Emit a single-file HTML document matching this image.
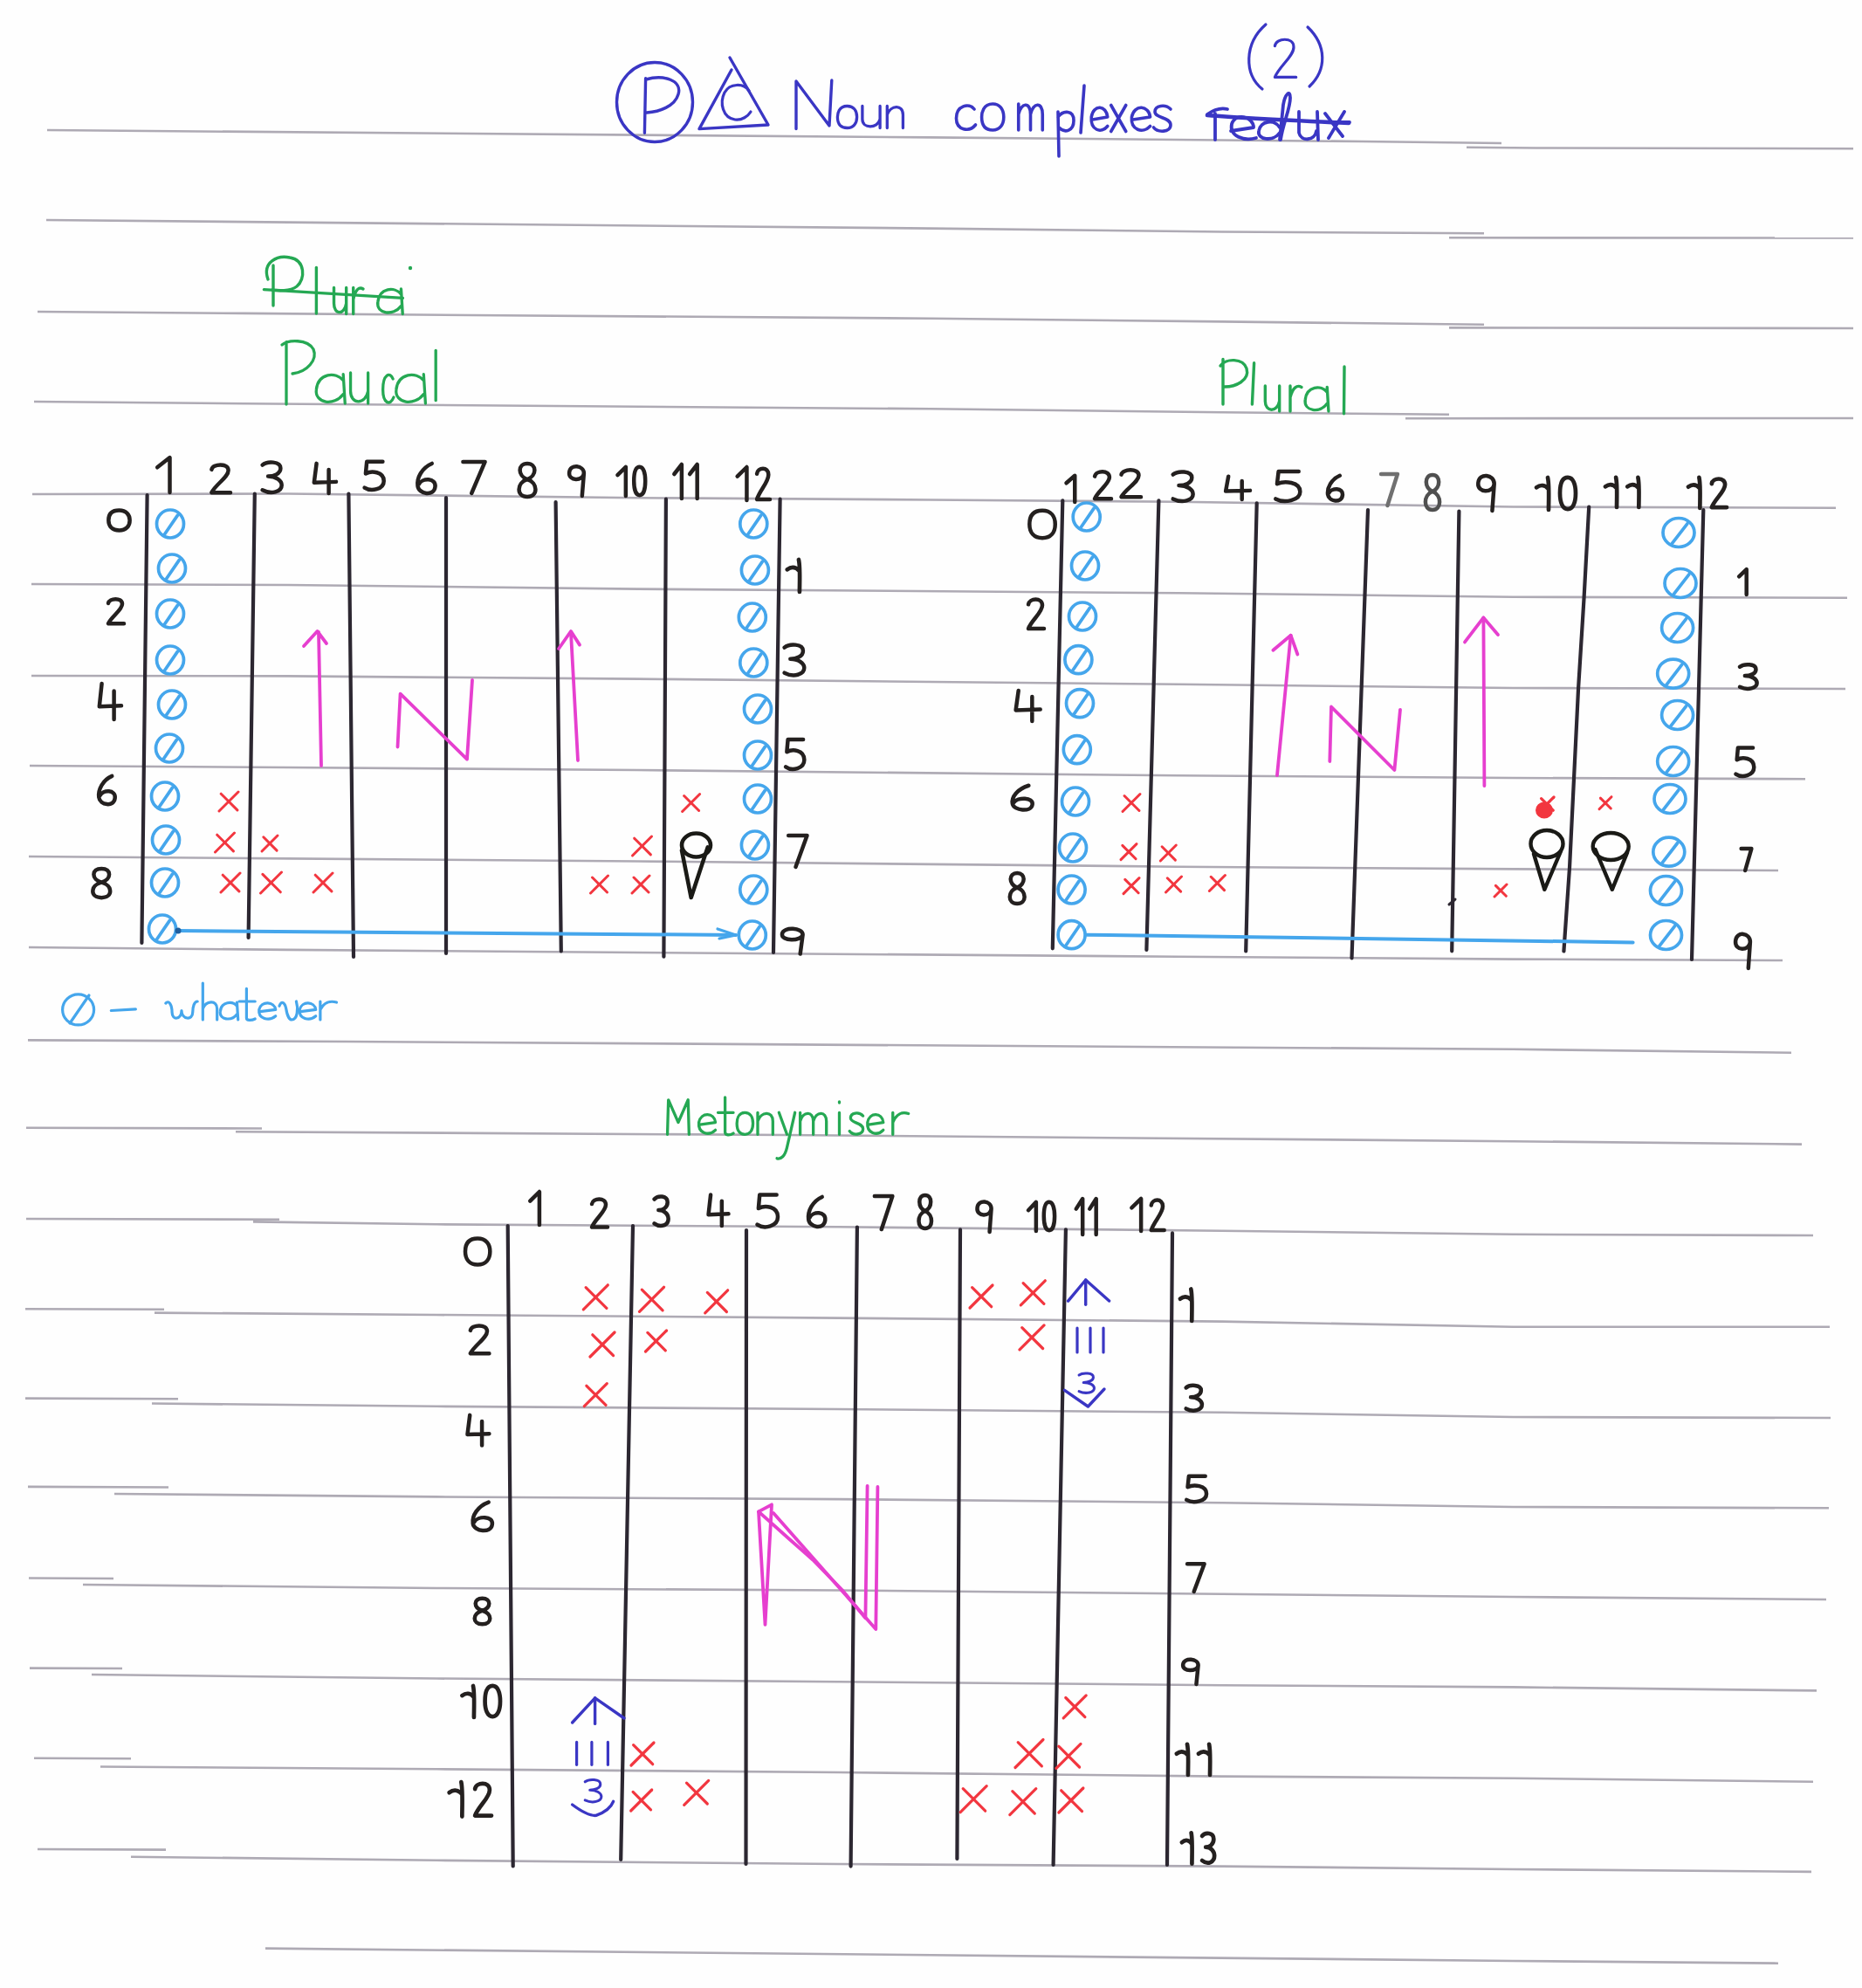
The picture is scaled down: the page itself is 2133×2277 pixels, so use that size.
<!DOCTYPE html>
<html><head><meta charset="utf-8"><title>Noun complexes</title>
<style>html,body{margin:0;padding:0;background:#fefefe;}body{width:2133px;height:2277px;overflow:hidden;}</style>
</head><body>
<svg width="2133" height="2277" viewBox="0 0 2133 2277" style="display:block;font-family:'Liberation Sans',sans-serif">
<rect width="2133" height="2277" fill="#fefefe"/>
<path d="M54.0,149.0 L1066.0,157.4 L1560.0,162.0 L1720.0,164.0" fill="none" stroke="#aeaab4" stroke-width="2.6" stroke-linecap="butt" stroke-linejoin="round"/>
<path d="M1680.0,168.8 L1760.0,169.5 L2123.0,170.2" fill="none" stroke="#aeaab4" stroke-width="2.6" stroke-linecap="butt" stroke-linejoin="round"/>
<path d="M53.0,252.0 L1066.0,261.6 L1400.0,265.5 L1700.0,267.2" fill="none" stroke="#aeaab4" stroke-width="2.6" stroke-linecap="butt" stroke-linejoin="round"/>
<path d="M1660.0,272.3 L2123.0,272.5" fill="none" stroke="#aeaab4" stroke-width="2.6" stroke-linecap="butt" stroke-linejoin="round"/>
<path d="M43.0,357.0 L280.0,358.9 L540.0,361.0 L1066.0,364.7 L1400.0,368.4 L1700.0,371.8" fill="none" stroke="#aeaab4" stroke-width="2.6" stroke-linecap="butt" stroke-linejoin="round"/>
<path d="M1660.0,375.4 L2123.0,376.0" fill="none" stroke="#aeaab4" stroke-width="2.6" stroke-linecap="butt" stroke-linejoin="round"/>
<path d="M39.0,460.0 L280.0,462.2 L540.0,464.3 L1066.0,468.3 L1400.0,472.3 L1660.0,474.8" fill="none" stroke="#aeaab4" stroke-width="2.6" stroke-linecap="butt" stroke-linejoin="round"/>
<path d="M1610.0,479.2 L2123.0,479.0" fill="none" stroke="#aeaab4" stroke-width="2.6" stroke-linecap="butt" stroke-linejoin="round"/>
<path d="M37.0,566.0 L330.0,565.5 L730.0,570.2 L1066.0,572.5 L1350.0,574.8 L1733.0,580.5 L2103.0,581.7" fill="none" stroke="#aeaab4" stroke-width="2.6" stroke-linecap="butt" stroke-linejoin="round"/>
<path d="M36.0,669.0 L330.0,670.0 L730.0,674.6 L1350.0,679.3 L1733.0,683.7 L2116.0,684.8" fill="none" stroke="#aeaab4" stroke-width="2.6" stroke-linecap="butt" stroke-linejoin="round"/>
<path d="M36.0,774.0 L330.0,774.4 L730.0,777.6 L1350.0,783.8 L1733.0,788.0 L2114.0,789.0" fill="none" stroke="#aeaab4" stroke-width="2.6" stroke-linecap="butt" stroke-linejoin="round"/>
<path d="M34.0,877.0 L330.0,879.0 L730.0,882.0 L1350.0,888.3 L1733.0,891.0 L2068.0,892.3" fill="none" stroke="#aeaab4" stroke-width="2.6" stroke-linecap="butt" stroke-linejoin="round"/>
<path d="M33.0,981.0 L330.0,983.4 L730.0,986.5 L1350.0,992.7 L1733.0,995.4 L2037.0,997.0" fill="none" stroke="#aeaab4" stroke-width="2.6" stroke-linecap="butt" stroke-linejoin="round"/>
<path d="M33.0,1085.0 L330.0,1087.9 L730.0,1091.0 L1350.0,1095.7 L1733.0,1098.6 L2042.0,1100.0" fill="none" stroke="#aeaab4" stroke-width="2.6" stroke-linecap="butt" stroke-linejoin="round"/>
<path d="M32.0,1191.4 L400.0,1193.0 L1733.0,1201.8 L2052.0,1205.8" fill="none" stroke="#aeaab4" stroke-width="2.6" stroke-linecap="butt" stroke-linejoin="round"/>
<path d="M30.0,1291.7 L300.0,1292.5" fill="none" stroke="#aeaab4" stroke-width="2.6" stroke-linecap="butt" stroke-linejoin="round"/>
<path d="M270.0,1296.2 L900.0,1300.0 L1733.0,1307.2 L2064.0,1310.6" fill="none" stroke="#aeaab4" stroke-width="2.6" stroke-linecap="butt" stroke-linejoin="round"/>
<path d="M30.0,1396.0 L320.0,1396.8" fill="none" stroke="#aeaab4" stroke-width="2.6" stroke-linecap="butt" stroke-linejoin="round"/>
<path d="M290.0,1399.4 L500.0,1402.3 L960.0,1405.3 L1400.0,1409.7 L1733.0,1413.8 L2077.0,1415.0" fill="none" stroke="#aeaab4" stroke-width="2.6" stroke-linecap="butt" stroke-linejoin="round"/>
<path d="M29.0,1499.3 L188.0,1499.8" fill="none" stroke="#aeaab4" stroke-width="2.6" stroke-linecap="butt" stroke-linejoin="round"/>
<path d="M177.0,1503.6 L500.0,1506.0 L960.0,1509.6 L1400.0,1513.6 L1733.0,1519.8 L2096.0,1519.8" fill="none" stroke="#aeaab4" stroke-width="2.6" stroke-linecap="butt" stroke-linejoin="round"/>
<path d="M29.0,1601.6 L204.0,1602.2" fill="none" stroke="#aeaab4" stroke-width="2.6" stroke-linecap="butt" stroke-linejoin="round"/>
<path d="M174.0,1607.5 L500.0,1610.8 L960.0,1614.0 L1400.0,1617.8 L1733.0,1623.0 L2097.0,1624.0" fill="none" stroke="#aeaab4" stroke-width="2.6" stroke-linecap="butt" stroke-linejoin="round"/>
<path d="M32.0,1702.9 L193.0,1703.5" fill="none" stroke="#aeaab4" stroke-width="2.6" stroke-linecap="butt" stroke-linejoin="round"/>
<path d="M131.0,1711.0 L500.0,1714.4 L960.0,1717.1 L1400.0,1721.2 L1733.0,1726.0 L2095.0,1727.3" fill="none" stroke="#aeaab4" stroke-width="2.6" stroke-linecap="butt" stroke-linejoin="round"/>
<path d="M33.0,1807.5 L130.0,1808.0" fill="none" stroke="#aeaab4" stroke-width="2.6" stroke-linecap="butt" stroke-linejoin="round"/>
<path d="M95.0,1815.0 L500.0,1819.0 L960.0,1821.5 L1400.0,1825.8 L1733.0,1829.0 L2092.0,1832.0" fill="none" stroke="#aeaab4" stroke-width="2.6" stroke-linecap="butt" stroke-linejoin="round"/>
<path d="M34.0,1910.6 L140.0,1911.0" fill="none" stroke="#aeaab4" stroke-width="2.6" stroke-linecap="butt" stroke-linejoin="round"/>
<path d="M105.0,1918.0 L500.0,1922.5 L960.0,1926.2 L1400.0,1930.2 L1733.0,1932.4 L2081.0,1936.4" fill="none" stroke="#aeaab4" stroke-width="2.6" stroke-linecap="butt" stroke-linejoin="round"/>
<path d="M39.0,2013.8 L150.0,2014.3" fill="none" stroke="#aeaab4" stroke-width="2.6" stroke-linecap="butt" stroke-linejoin="round"/>
<path d="M115.0,2023.5 L500.0,2026.3 L960.0,2030.0 L1400.0,2034.6 L1733.0,2036.7 L2077.0,2040.7" fill="none" stroke="#aeaab4" stroke-width="2.6" stroke-linecap="butt" stroke-linejoin="round"/>
<path d="M43.0,2118.0 L190.0,2118.6" fill="none" stroke="#aeaab4" stroke-width="2.6" stroke-linecap="butt" stroke-linejoin="round"/>
<path d="M150.0,2126.7 L500.0,2130.8 L960.0,2135.0 L1400.0,2137.6 L1733.0,2141.0 L2075.0,2143.9" fill="none" stroke="#aeaab4" stroke-width="2.6" stroke-linecap="butt" stroke-linejoin="round"/>
<path d="M304.0,2231.6 L1733.0,2246.0 L2037.0,2248.7" fill="none" stroke="#aeaab4" stroke-width="2.6" stroke-linecap="butt" stroke-linejoin="round"/>
<path d="M168.6,567.0 L162.4,1080.0" fill="none" stroke="#2c2731" stroke-width="4.2" stroke-linecap="round" stroke-linejoin="round"/>
<path d="M291.8,565.5 L284.6,1074.0" fill="none" stroke="#2c2731" stroke-width="4.2" stroke-linecap="round" stroke-linejoin="round"/>
<path d="M399.4,565.5 L405.0,1096.0" fill="none" stroke="#2c2731" stroke-width="4.2" stroke-linecap="round" stroke-linejoin="round"/>
<path d="M511.0,570.0 L511.0,1092.0" fill="none" stroke="#2c2731" stroke-width="4.2" stroke-linecap="round" stroke-linejoin="round"/>
<path d="M636.6,575.0 L642.8,1089.4" fill="none" stroke="#2c2731" stroke-width="4.2" stroke-linecap="round" stroke-linejoin="round"/>
<path d="M762.9,571.7 L760.4,1095.7" fill="none" stroke="#2c2731" stroke-width="4.2" stroke-linecap="round" stroke-linejoin="round"/>
<path d="M893.6,571.7 L886.0,1091.0" fill="none" stroke="#2c2731" stroke-width="4.2" stroke-linecap="round" stroke-linejoin="round"/>
<path d="M1217.3,573.3 L1205.8,1086.3" fill="none" stroke="#2c2731" stroke-width="4.2" stroke-linecap="round" stroke-linejoin="round"/>
<path d="M1327.4,573.3 L1313.4,1087.9" fill="none" stroke="#2c2731" stroke-width="4.2" stroke-linecap="round" stroke-linejoin="round"/>
<path d="M1439.7,576.4 L1427.2,1089.4" fill="none" stroke="#2c2731" stroke-width="4.2" stroke-linecap="round" stroke-linejoin="round"/>
<path d="M1567.0,584.0 L1548.5,1097.3" fill="none" stroke="#2c2731" stroke-width="4.2" stroke-linecap="round" stroke-linejoin="round"/>
<path d="M1671.4,585.6 L1663.2,1089.3" fill="none" stroke="#2c2731" stroke-width="4.2" stroke-linecap="round" stroke-linejoin="round"/>
<path d="M1951.3,584.0 L1938.0,1099.0" fill="none" stroke="#2c2731" stroke-width="4.2" stroke-linecap="round" stroke-linejoin="round"/>
<path d="M581.7,1404.0 L587.7,2137.4" fill="none" stroke="#2c2731" stroke-width="4.2" stroke-linecap="round" stroke-linejoin="round"/>
<path d="M725.0,1404.0 L711.2,2130.0" fill="none" stroke="#2c2731" stroke-width="4.2" stroke-linecap="round" stroke-linejoin="round"/>
<path d="M855.0,1409.0 L854.5,2135.0" fill="none" stroke="#2c2731" stroke-width="4.2" stroke-linecap="round" stroke-linejoin="round"/>
<path d="M981.9,1405.6 L974.6,2137.6" fill="none" stroke="#2c2731" stroke-width="4.2" stroke-linecap="round" stroke-linejoin="round"/>
<path d="M1100.0,1408.3 L1096.4,2128.9" fill="none" stroke="#2c2731" stroke-width="4.2" stroke-linecap="round" stroke-linejoin="round"/>
<path d="M1220.9,1408.3 L1206.6,2136.0" fill="none" stroke="#2c2731" stroke-width="4.2" stroke-linecap="round" stroke-linejoin="round"/>
<path d="M1343.0,1412.4 L1337.0,2136.0" fill="none" stroke="#2c2731" stroke-width="4.2" stroke-linecap="round" stroke-linejoin="round"/>
<path d="M1820.2,580.7 L1814.6,684.0 L1808.0,789.7 L1803.0,891.8 L1798.0,993.8 L1791.4,1089.5" fill="none" stroke="#2c2731" stroke-width="4.2" stroke-linecap="round" stroke-linejoin="round"/>
<path d="M1660.0,1036.0 L1667.0,1030.0" fill="none" stroke="#2c2731" stroke-width="3.0" stroke-linecap="round" stroke-linejoin="round"/>
<ellipse cx="750" cy="117" rx="43.5" ry="45.5" fill="none" stroke="#3a36c4" stroke-width="3.4"/>
<path d="M739.6,89.7 L738.4,152.3 M740,91 C760,85 782,92 777,108 C773,122 755,128 741,129" fill="none" stroke="#3a36c4" stroke-width="3.4" stroke-linecap="round" stroke-linejoin="round" />
<path d="M836,66 L880,143 L801,147.6 L838,80" fill="none" stroke="#3a36c4" stroke-width="3.4" stroke-linecap="round" stroke-linejoin="round" />
<path d="M858,104 C852,95 836,95 830,106 C824,118 828,135 842,137 C850,138 857,133 860,128" fill="none" stroke="#3a36c4" stroke-width="3.2" stroke-linecap="round" stroke-linejoin="round" />
<path d="M912,147.6 L912,93 L950,144 L952.8,92" fill="none" stroke="#3a36c4" stroke-width="3.4" stroke-linecap="round" stroke-linejoin="round" />
<path d="M9,-20 C2,-20 1,-13 1,-10 C1,-3 4,0 9,0 C14,0 17,-4 17,-10 C17,-16 14,-20 9,-20 Z" transform="translate(958.0,146.5) scale(1.389,1.250)" fill="none" stroke="#3a36c4" stroke-width="3.3" vector-effect="non-scaling-stroke" stroke-linecap="round" stroke-linejoin="round"/>
<path d="M2,-20 L2,-8 C2,1 14,1 16,-8 M16,-20 L16,0" transform="translate(985.0,146.5) scale(1.444,1.250)" fill="none" stroke="#3a36c4" stroke-width="3.3" vector-effect="non-scaling-stroke" stroke-linecap="round" stroke-linejoin="round"/>
<path d="M2,-20 L2,0 M2,-12 C5,-21 16,-22 16,-12 L16,0" transform="translate(1013.7,146.5) scale(1.294,1.250)" fill="none" stroke="#3a36c4" stroke-width="3.3" vector-effect="non-scaling-stroke" stroke-linecap="round" stroke-linejoin="round"/>
<path d="M15,-16 C11,-21 1,-19 1,-9 C1,0 11,2 16,-4" transform="translate(1094.0,149.0) scale(1.471,1.500)" fill="none" stroke="#3a36c4" stroke-width="3.6" vector-effect="non-scaling-stroke" stroke-linecap="round" stroke-linejoin="round"/>
<path d="M9,-20 C2,-20 1,-13 1,-10 C1,-3 4,0 9,0 C14,0 17,-4 17,-10 C17,-16 14,-20 9,-20 Z" transform="translate(1123.0,149.0) scale(1.578,1.500)" fill="none" stroke="#3a36c4" stroke-width="3.6" vector-effect="non-scaling-stroke" stroke-linecap="round" stroke-linejoin="round"/>
<path d="M2,-20 L2,0 M2,-12 C4,-21 12,-22 12,-12 L12,0 M12,-12 C14,-21 22,-22 22,-12 L22,0" transform="translate(1164.0,149.0) scale(1.375,1.500)" fill="none" stroke="#3a36c4" stroke-width="3.6" vector-effect="non-scaling-stroke" stroke-linecap="round" stroke-linejoin="round"/>
<path d="M2,-9 L16,-11 C15,-20 3,-21 1,-11 C0,-1 10,2 16,-4" transform="translate(1249.0,150.5) scale(1.235,1.500)" fill="none" stroke="#3a36c4" stroke-width="3.6" vector-effect="non-scaling-stroke" stroke-linecap="round" stroke-linejoin="round"/>
<path d="M1,-20 L15,0 M15,-20 L1,0" transform="translate(1271.5,150.5) scale(1.219,1.500)" fill="none" stroke="#3a36c4" stroke-width="3.6" vector-effect="non-scaling-stroke" stroke-linecap="round" stroke-linejoin="round"/>
<path d="M2,-9 L16,-11 C15,-20 3,-21 1,-11 C0,-1 10,2 16,-4" transform="translate(1295.0,150.5) scale(1.412,1.500)" fill="none" stroke="#3a36c4" stroke-width="3.6" vector-effect="non-scaling-stroke" stroke-linecap="round" stroke-linejoin="round"/>
<path d="M14,-17 C10,-21 2,-20 2,-15 C2,-10 14,-11 14,-5 C14,1 4,1 1,-3" transform="translate(1320.0,150.5) scale(1.500,1.500)" fill="none" stroke="#3a36c4" stroke-width="3.6" vector-effect="non-scaling-stroke" stroke-linecap="round" stroke-linejoin="round"/>
<path d="M1212,128 L1213,179 M1212,134 C1218,126 1230,126 1230,138 C1230,150 1220,153 1213,146" fill="none" stroke="#3a36c4" stroke-width="3.6" stroke-linecap="round" stroke-linejoin="round" />
<path d="M1242,98 L1238,152" fill="none" stroke="#3a36c4" stroke-width="3.6" stroke-linecap="round" stroke-linejoin="round" />
<path d="M1392,160 L1392,130 M1383,131 C1390,126 1398,123 1406,125" fill="none" stroke="#3a36c4" stroke-width="3.8" stroke-linecap="round" stroke-linejoin="round" />
<path d="M1410,150 L1436,146 C1436,134 1416,128 1411,142 C1408,156 1425,162 1439,158" fill="none" stroke="#3a36c4" stroke-width="3.8" stroke-linecap="round" stroke-linejoin="round" />
<path d="M1466,146 C1460,136 1444,138 1442,150 C1440,160 1458,163 1466,152 M1466,160 L1470,120 C1472,108 1478,102 1478,112 C1478,125 1470,140 1467,160" fill="none" stroke="#3a36c4" stroke-width="3.8" stroke-linecap="round" stroke-linejoin="round" />
<path d="M1488,128 L1488,152 C1490,162 1506,162 1508,150 M1509,128 L1510,160" fill="none" stroke="#3a36c4" stroke-width="3.8" stroke-linecap="round" stroke-linejoin="round" />
<path d="M1518,130 L1538,156 M1540,128 L1522,158 M1518,140 L1546,140" fill="none" stroke="#3a36c4" stroke-width="3.8" stroke-linecap="round" stroke-linejoin="round" />
<path d="M1383,132 C1420,135 1480,138 1545,141" fill="none" stroke="#3a36c4" stroke-width="4.6" stroke-linecap="round" stroke-linejoin="round" />
<path d="M1450,28 C1425,50 1425,85 1446,102" fill="none" stroke="#3a36c4" stroke-width="3.2" stroke-linecap="round" stroke-linejoin="round" />
<path d="M1498,31 C1520,52 1520,80 1500,99" fill="none" stroke="#3a36c4" stroke-width="3.2" stroke-linecap="round" stroke-linejoin="round" />
<path d="M2,9 C3,1 18,0 18,10 C18,19 6,28 2,39 L20,39" transform="translate(1457.7,42.0) scale(1.350,1.190)" fill="none" stroke="#3a36c4" stroke-width="3.2" vector-effect="non-scaling-stroke" stroke-linecap="round" stroke-linejoin="round"/>
<path d="M313,350 L313,304 M307,320 C300,300 318,292 332,295 C350,298 350,320 340,328 C332,334 318,333 312,332" fill="none" stroke="#25a853" stroke-width="3.4" stroke-linecap="round" stroke-linejoin="round" />
<path d="M362.4,306.5 L362.4,359" fill="none" stroke="#25a853" stroke-width="3.4" stroke-linecap="round" stroke-linejoin="round" />
<path d="M2,-20 L2,-8 C2,1 14,1 16,-8 M16,-20 L16,0" transform="translate(380.5,359.5) scale(1.011,1.500)" fill="none" stroke="#25a853" stroke-width="3.4" vector-effect="non-scaling-stroke" stroke-linecap="round" stroke-linejoin="round"/>
<path d="M2,-20 L2,0 M2,-11 C5,-19 10,-21 15,-19" transform="translate(403.0,359.5) scale(0.867,1.500)" fill="none" stroke="#25a853" stroke-width="3.4" vector-effect="non-scaling-stroke" stroke-linecap="round" stroke-linejoin="round"/>
<path d="M16,-15 C12,-21 2,-20 1,-9 C0,0 11,2 16,-6 M16,-19 L17,0" transform="translate(431.0,359.5) scale(1.778,1.500)" fill="none" stroke="#25a853" stroke-width="3.4" vector-effect="non-scaling-stroke" stroke-linecap="round" stroke-linejoin="round"/>
<path d="M302.3,331.7 L461.5,341.4" fill="none" stroke="#25a853" stroke-width="3.2" stroke-linecap="round" stroke-linejoin="round" />
<circle cx="470" cy="307" r="2.2" fill="#25a853"/>
<path d="M328,463 L328,391.7 M323,395 C330,389 352,388 359,400 C364,412 352,426 335,428" fill="none" stroke="#25a853" stroke-width="3.3" stroke-linecap="round" stroke-linejoin="round" />
<path d="M16,-15 C12,-21 2,-20 1,-9 C0,0 11,2 16,-6 M16,-19 L17,0" transform="translate(360.3,462.0) scale(2.056,1.750)" fill="none" stroke="#25a853" stroke-width="3.3" vector-effect="non-scaling-stroke" stroke-linecap="round" stroke-linejoin="round"/>
<path d="M2,-20 L2,-8 C2,1 14,1 16,-8 M16,-20 L16,0" transform="translate(398.7,462.0) scale(1.433,1.750)" fill="none" stroke="#25a853" stroke-width="3.3" vector-effect="non-scaling-stroke" stroke-linecap="round" stroke-linejoin="round"/>
<path d="M15,-16 C11,-21 1,-19 1,-9 C1,0 11,2 16,-4" transform="translate(437.8,462.0) scale(0.824,1.750)" fill="none" stroke="#25a853" stroke-width="3.3" vector-effect="non-scaling-stroke" stroke-linecap="round" stroke-linejoin="round"/>
<path d="M16,-15 C12,-21 2,-20 1,-9 C0,0 11,2 16,-6 M16,-19 L17,0" transform="translate(451.8,462.0) scale(2.094,1.750)" fill="none" stroke="#25a853" stroke-width="3.3" vector-effect="non-scaling-stroke" stroke-linecap="round" stroke-linejoin="round"/>
<path d="M499.2,401.5 L499.2,458.7" fill="none" stroke="#25a853" stroke-width="3.3" stroke-linecap="round" stroke-linejoin="round" />
<path d="M1401,463 L1401,411.5 M1398,419 C1404,410 1424,410 1428,422 C1432,436 1415,443 1403,443" fill="none" stroke="#25a853" stroke-width="3.4" stroke-linecap="round" stroke-linejoin="round" />
<path d="M1436.6,415.8 L1434.4,463" fill="none" stroke="#25a853" stroke-width="3.4" stroke-linecap="round" stroke-linejoin="round" />
<path d="M2,-20 L2,-8 C2,1 14,1 16,-8 M16,-20 L16,0" transform="translate(1447.0,471.0) scale(1.167,1.450)" fill="none" stroke="#25a853" stroke-width="3.4" vector-effect="non-scaling-stroke" stroke-linecap="round" stroke-linejoin="round"/>
<path d="M2,-20 L2,0 M2,-11 C5,-19 10,-21 15,-19" transform="translate(1476.0,471.0) scale(1.000,1.450)" fill="none" stroke="#25a853" stroke-width="3.4" vector-effect="non-scaling-stroke" stroke-linecap="round" stroke-linejoin="round"/>
<path d="M16,-15 C12,-21 2,-20 1,-9 C0,0 11,2 16,-6 M16,-19 L17,0" transform="translate(1493.5,471.0) scale(1.672,1.450)" fill="none" stroke="#25a853" stroke-width="3.4" vector-effect="non-scaling-stroke" stroke-linecap="round" stroke-linejoin="round"/>
<path d="M1540,420 L1539.5,473.8" fill="none" stroke="#25a853" stroke-width="3.4" stroke-linecap="round" stroke-linejoin="round" />
<path d="M2,0 L3,-40 L13,-14 L23,-40 L24,0" transform="translate(762.3,1299.3) scale(1.127,0.988)" fill="none" stroke="#25a853" stroke-width="3.3" vector-effect="non-scaling-stroke" stroke-linecap="round" stroke-linejoin="round"/>
<path d="M2,-9 L16,-11 C15,-20 3,-21 1,-11 C0,-1 10,2 16,-4" transform="translate(799.3,1299.3) scale(1.265,1.250)" fill="none" stroke="#25a853" stroke-width="3.3" vector-effect="non-scaling-stroke" stroke-linecap="round" stroke-linejoin="round"/>
<path d="M6,-34 L6,-2 C6,1 10,1 13,-1 M0,-20 L13,-20" transform="translate(822.5,1299.3) scale(1.350,1.250)" fill="none" stroke="#25a853" stroke-width="3.3" vector-effect="non-scaling-stroke" stroke-linecap="round" stroke-linejoin="round"/>
<path d="M9,-20 C2,-20 1,-13 1,-10 C1,-3 4,0 9,0 C14,0 17,-4 17,-10 C17,-16 14,-20 9,-20 Z" transform="translate(843.0,1299.3) scale(1.150,1.250)" fill="none" stroke="#25a853" stroke-width="3.3" vector-effect="non-scaling-stroke" stroke-linecap="round" stroke-linejoin="round"/>
<path d="M2,-20 L2,0 M2,-12 C5,-21 16,-22 16,-12 L16,0" transform="translate(865.5,1299.3) scale(1.239,1.250)" fill="none" stroke="#25a853" stroke-width="3.3" vector-effect="non-scaling-stroke" stroke-linecap="round" stroke-linejoin="round"/>
<path d="M1,-20 L9,0 M17,-20 L9,12 C7,20 3,23 -1,22" transform="translate(891.2,1299.3) scale(1.144,1.250)" fill="none" stroke="#25a853" stroke-width="3.3" vector-effect="non-scaling-stroke" stroke-linecap="round" stroke-linejoin="round"/>
<path d="M2,-20 L2,0 M2,-12 C4,-21 12,-22 12,-12 L12,0 M12,-12 C14,-21 22,-22 22,-12 L22,0" transform="translate(913.6,1299.3) scale(1.504,1.250)" fill="none" stroke="#25a853" stroke-width="3.3" vector-effect="non-scaling-stroke" stroke-linecap="round" stroke-linejoin="round"/>
<path d="M3,-20 L3,0 M3,-30 L3,-29" transform="translate(958.0,1299.3) scale(1.167,1.250)" fill="none" stroke="#25a853" stroke-width="3.3" vector-effect="non-scaling-stroke" stroke-linecap="round" stroke-linejoin="round"/>
<path d="M14,-17 C10,-21 2,-20 2,-15 C2,-10 14,-11 14,-5 C14,1 4,1 1,-3" transform="translate(972.0,1299.3) scale(1.188,1.250)" fill="none" stroke="#25a853" stroke-width="3.3" vector-effect="non-scaling-stroke" stroke-linecap="round" stroke-linejoin="round"/>
<path d="M2,-9 L16,-11 C15,-20 3,-21 1,-11 C0,-1 10,2 16,-4" transform="translate(992.6,1299.3) scale(1.200,1.250)" fill="none" stroke="#25a853" stroke-width="3.3" vector-effect="non-scaling-stroke" stroke-linecap="round" stroke-linejoin="round"/>
<path d="M2,-20 L2,0 M2,-11 C5,-19 10,-21 15,-19" transform="translate(1020.0,1299.3) scale(1.380,1.250)" fill="none" stroke="#25a853" stroke-width="3.3" vector-effect="non-scaling-stroke" stroke-linecap="round" stroke-linejoin="round"/>
<ellipse cx="89.6" cy="1156.4" rx="18" ry="17.5" fill="none" stroke="#45a6ec" stroke-width="3.2"/>
<path d="M80.0,1172.0 L102.0,1140.0" fill="none" stroke="#45a6ec" stroke-width="3.2" stroke-linecap="round" stroke-linejoin="round"/>
<path d="M127.3,1157.5 L155.4,1155.8" fill="none" stroke="#45a6ec" stroke-width="3.2" stroke-linecap="round" stroke-linejoin="round"/>
<path d="M1,-18 C3,-22 5,-16 5,-8 C5,1 11,0 11,-10 C11,0 18,1 18,-8 C18,-14 19,-20 21,-20" transform="translate(188.0,1168.0) scale(1.818,1.050)" fill="none" stroke="#45a6ec" stroke-width="3.2" vector-effect="non-scaling-stroke" stroke-linecap="round" stroke-linejoin="round"/>
<path d="M2,-40 L2,0 M2,-12 C5,-21 16,-22 16,-12 L16,0" transform="translate(230.0,1168.0) scale(1.167,1.050)" fill="none" stroke="#45a6ec" stroke-width="3.2" vector-effect="non-scaling-stroke" stroke-linecap="round" stroke-linejoin="round"/>
<path d="M16,-15 C12,-21 2,-20 1,-9 C0,0 11,2 16,-6 M16,-19 L17,0" transform="translate(251.0,1168.0) scale(1.278,1.050)" fill="none" stroke="#45a6ec" stroke-width="3.2" vector-effect="non-scaling-stroke" stroke-linecap="round" stroke-linejoin="round"/>
<path d="M6,-34 L6,-2 C6,1 10,1 13,-1 M0,-20 L13,-20" transform="translate(274.0,1168.0) scale(1.400,1.050)" fill="none" stroke="#45a6ec" stroke-width="3.2" vector-effect="non-scaling-stroke" stroke-linecap="round" stroke-linejoin="round"/>
<path d="M2,-9 L16,-11 C15,-20 3,-21 1,-11 C0,-1 10,2 16,-4" transform="translate(295.5,1168.0) scale(1.265,1.050)" fill="none" stroke="#45a6ec" stroke-width="3.2" vector-effect="non-scaling-stroke" stroke-linecap="round" stroke-linejoin="round"/>
<path d="M1,-15 C3,-22 6,-18 7,-12 C8,-4 10,0 12,0 C17,0 18,-12 16,-20" transform="translate(318.7,1168.0) scale(1.294,1.050)" fill="none" stroke="#45a6ec" stroke-width="3.2" vector-effect="non-scaling-stroke" stroke-linecap="round" stroke-linejoin="round"/>
<path d="M2,-9 L16,-11 C15,-20 3,-21 1,-11 C0,-1 10,2 16,-4" transform="translate(342.0,1168.0) scale(1.235,1.050)" fill="none" stroke="#45a6ec" stroke-width="3.2" vector-effect="non-scaling-stroke" stroke-linecap="round" stroke-linejoin="round"/>
<path d="M2,-20 L2,0 M2,-11 C5,-19 10,-21 15,-19" transform="translate(364.0,1168.0) scale(1.433,1.050)" fill="none" stroke="#45a6ec" stroke-width="3.2" vector-effect="non-scaling-stroke" stroke-linecap="round" stroke-linejoin="round"/>
<path d="M2,12 L15,1 L15,40" transform="translate(178.0,523.0) scale(1.100,1.025)" fill="none" stroke="#24201f" stroke-width="4.5" vector-effect="non-scaling-stroke" stroke-linecap="round" stroke-linejoin="round"/>
<path d="M2,9 C3,1 18,0 18,10 C18,19 6,28 2,39 L20,39" transform="translate(240.0,530.0) scale(1.200,0.875)" fill="none" stroke="#24201f" stroke-width="4.5" vector-effect="non-scaling-stroke" stroke-linecap="round" stroke-linejoin="round"/>
<path d="M2,5 C6,0 18,0 18,9 C18,16 12,19 7,19 C14,19 19,24 19,30 C19,38 10,42 2,36" transform="translate(298.0,528.0) scale(1.300,0.925)" fill="none" stroke="#24201f" stroke-width="4.5" vector-effect="non-scaling-stroke" stroke-linecap="round" stroke-linejoin="round"/>
<path d="M4,1 L2,26 L20,25 M14,9 L14,40" transform="translate(357.0,530.0) scale(1.400,0.875)" fill="none" stroke="#24201f" stroke-width="4.5" vector-effect="non-scaling-stroke" stroke-linecap="round" stroke-linejoin="round"/>
<path d="M18,1 L4,1 L3,17 C8,13 19,14 19,27 C19,38 8,42 2,36" transform="translate(415.0,528.0) scale(1.300,0.850)" fill="none" stroke="#24201f" stroke-width="4.5" vector-effect="non-scaling-stroke" stroke-linecap="round" stroke-linejoin="round"/>
<path d="M15,1 C6,6 1,18 2,28 C3,38 17,41 18,29 C19,18 6,18 3,26" transform="translate(476.0,530.0) scale(1.250,0.950)" fill="none" stroke="#24201f" stroke-width="4.5" vector-effect="non-scaling-stroke" stroke-linecap="round" stroke-linejoin="round"/>
<path d="M1,2 L19,2 L8,40" transform="translate(529.0,527.0) scale(1.400,0.950)" fill="none" stroke="#24201f" stroke-width="4.5" vector-effect="non-scaling-stroke" stroke-linecap="round" stroke-linejoin="round"/>
<path d="M10,19 C2,15 2,1 10,1 C18,1 18,15 10,19 C1,23 1,39 10,39 C19,39 19,23 10,19 Z" transform="translate(590.0,530.0) scale(1.400,1.000)" fill="none" stroke="#24201f" stroke-width="4.5" vector-effect="non-scaling-stroke" stroke-linecap="round" stroke-linejoin="round"/>
<path d="M18,12 C18,2 3,0 2,11 C1,22 17,22 18,12 L16,40" transform="translate(650.0,531.0) scale(1.050,0.925)" fill="none" stroke="#24201f" stroke-width="4.5" vector-effect="non-scaling-stroke" stroke-linecap="round" stroke-linejoin="round"/>
<path d="M2,12 L15,1 L15,40" transform="translate(706.0,534.0) scale(0.723,0.850)" fill="none" stroke="#24201f" stroke-width="4.5" vector-effect="non-scaling-stroke" stroke-linecap="round" stroke-linejoin="round"/>
<path d="M10,1 C3,1 1,10 1,20 C1,31 4,39 10,39 C16,39 19,31 19,20 C19,9 16,1 10,1 Z" transform="translate(725.5,534.0) scale(0.723,0.850)" fill="none" stroke="#24201f" stroke-width="4.5" vector-effect="non-scaling-stroke" stroke-linecap="round" stroke-linejoin="round"/>
<path d="M2,12 L15,1 L15,40" transform="translate(771.0,531.0) scale(0.659,1.000)" fill="none" stroke="#24201f" stroke-width="4.5" vector-effect="non-scaling-stroke" stroke-linecap="round" stroke-linejoin="round"/>
<path d="M2,12 L15,1 L15,40" transform="translate(788.8,531.0) scale(0.659,1.000)" fill="none" stroke="#24201f" stroke-width="4.5" vector-effect="non-scaling-stroke" stroke-linecap="round" stroke-linejoin="round"/>
<path d="M2,12 L15,1 L15,40" transform="translate(843.0,534.0) scale(0.829,0.975)" fill="none" stroke="#24201f" stroke-width="4.5" vector-effect="non-scaling-stroke" stroke-linecap="round" stroke-linejoin="round"/>
<path d="M2,9 C3,1 18,0 18,10 C18,19 6,28 2,39 L20,39" transform="translate(865.4,534.0) scale(0.829,0.975)" fill="none" stroke="#24201f" stroke-width="4.5" vector-effect="non-scaling-stroke" stroke-linecap="round" stroke-linejoin="round"/>
<path d="M10,1 C3,1 1,10 1,20 C1,31 4,39 10,39 C16,39 19,31 19,20 C19,9 16,1 10,1 Z" transform="translate(123.0,584.0) scale(1.350,0.600)" fill="none" stroke="#24201f" stroke-width="4.5" vector-effect="non-scaling-stroke" stroke-linecap="round" stroke-linejoin="round"/>
<path d="M2,9 C3,1 18,0 18,10 C18,19 6,28 2,39 L20,39" transform="translate(122.0,684.0) scale(1.000,0.775)" fill="none" stroke="#24201f" stroke-width="4.5" vector-effect="non-scaling-stroke" stroke-linecap="round" stroke-linejoin="round"/>
<path d="M4,1 L2,26 L20,25 M14,9 L14,40" transform="translate(111.0,782.0) scale(1.400,1.050)" fill="none" stroke="#24201f" stroke-width="4.5" vector-effect="non-scaling-stroke" stroke-linecap="round" stroke-linejoin="round"/>
<path d="M15,1 C6,6 1,18 2,28 C3,38 17,41 18,29 C19,18 6,18 3,26" transform="translate(111.0,888.0) scale(1.150,0.900)" fill="none" stroke="#24201f" stroke-width="4.5" vector-effect="non-scaling-stroke" stroke-linecap="round" stroke-linejoin="round"/>
<path d="M10,19 C2,15 2,1 10,1 C18,1 18,15 10,19 C1,23 1,39 10,39 C19,39 19,23 10,19 Z" transform="translate(101.5,994.0) scale(1.475,0.875)" fill="none" stroke="#24201f" stroke-width="4.5" vector-effect="non-scaling-stroke" stroke-linecap="round" stroke-linejoin="round"/>
<path d="M1,13 C6,9 11,10 15,15 M14,1 C16,10 15,30 15,40" transform="translate(900.7,640.0) scale(1.015,0.950)" fill="none" stroke="#24201f" stroke-width="4.7" vector-effect="non-scaling-stroke" stroke-linecap="round" stroke-linejoin="round"/>
<path d="M2,5 C6,0 18,0 18,9 C18,16 12,19 7,19 C14,19 19,24 19,30 C19,38 10,42 2,36" transform="translate(896.0,737.0) scale(1.330,0.935)" fill="none" stroke="#24201f" stroke-width="4.5" vector-effect="non-scaling-stroke" stroke-linecap="round" stroke-linejoin="round"/>
<path d="M18,1 L4,1 L3,17 C8,13 19,14 19,27 C19,38 8,42 2,36" transform="translate(897.6,846.0) scale(1.250,0.900)" fill="none" stroke="#24201f" stroke-width="4.5" vector-effect="non-scaling-stroke" stroke-linecap="round" stroke-linejoin="round"/>
<path d="M1,2 L19,2 L8,40" transform="translate(902.0,955.0) scale(1.185,0.950)" fill="none" stroke="#24201f" stroke-width="4.5" vector-effect="non-scaling-stroke" stroke-linecap="round" stroke-linejoin="round"/>
<path d="M18,12 C18,2 3,0 2,11 C1,22 17,22 18,12 L16,40" transform="translate(893.0,1061.0) scale(1.480,0.790)" fill="none" stroke="#24201f" stroke-width="4.5" vector-effect="non-scaling-stroke" stroke-linecap="round" stroke-linejoin="round"/>
<ellipse cx="195.0" cy="600.0" rx="15.5" ry="16" fill="none" stroke="#45a6ec" stroke-width="3.7"/>
<path d="M188.0,612.8 L203.5,590.1" fill="none" stroke="#45a6ec" stroke-width="3.7" stroke-linecap="round" stroke-linejoin="round"/>
<ellipse cx="197.0" cy="651.0" rx="15.5" ry="16" fill="none" stroke="#45a6ec" stroke-width="3.7"/>
<path d="M190.0,663.8 L205.5,641.1" fill="none" stroke="#45a6ec" stroke-width="3.7" stroke-linecap="round" stroke-linejoin="round"/>
<ellipse cx="195.0" cy="703.0" rx="15.5" ry="16" fill="none" stroke="#45a6ec" stroke-width="3.7"/>
<path d="M188.0,715.8 L203.5,693.1" fill="none" stroke="#45a6ec" stroke-width="3.7" stroke-linecap="round" stroke-linejoin="round"/>
<ellipse cx="195.0" cy="756.0" rx="15.5" ry="16" fill="none" stroke="#45a6ec" stroke-width="3.7"/>
<path d="M188.0,768.8 L203.5,746.1" fill="none" stroke="#45a6ec" stroke-width="3.7" stroke-linecap="round" stroke-linejoin="round"/>
<ellipse cx="197.0" cy="807.0" rx="15.5" ry="16" fill="none" stroke="#45a6ec" stroke-width="3.7"/>
<path d="M190.0,819.8 L205.5,797.1" fill="none" stroke="#45a6ec" stroke-width="3.7" stroke-linecap="round" stroke-linejoin="round"/>
<ellipse cx="194.0" cy="857.0" rx="15.5" ry="16" fill="none" stroke="#45a6ec" stroke-width="3.7"/>
<path d="M187.0,869.8 L202.5,847.1" fill="none" stroke="#45a6ec" stroke-width="3.7" stroke-linecap="round" stroke-linejoin="round"/>
<ellipse cx="189.0" cy="912.0" rx="15.5" ry="16" fill="none" stroke="#45a6ec" stroke-width="3.7"/>
<path d="M182.0,924.8 L197.5,902.1" fill="none" stroke="#45a6ec" stroke-width="3.7" stroke-linecap="round" stroke-linejoin="round"/>
<ellipse cx="190.0" cy="962.0" rx="15.5" ry="16" fill="none" stroke="#45a6ec" stroke-width="3.7"/>
<path d="M183.0,974.8 L198.5,952.1" fill="none" stroke="#45a6ec" stroke-width="3.7" stroke-linecap="round" stroke-linejoin="round"/>
<ellipse cx="189.0" cy="1011.0" rx="15.5" ry="16" fill="none" stroke="#45a6ec" stroke-width="3.7"/>
<path d="M182.0,1023.8 L197.5,1001.1" fill="none" stroke="#45a6ec" stroke-width="3.7" stroke-linecap="round" stroke-linejoin="round"/>
<ellipse cx="186.0" cy="1064.0" rx="15.5" ry="16" fill="none" stroke="#45a6ec" stroke-width="3.7"/>
<path d="M179.0,1076.8 L194.5,1054.1" fill="none" stroke="#45a6ec" stroke-width="3.7" stroke-linecap="round" stroke-linejoin="round"/>
<ellipse cx="863.3" cy="600.0" rx="15.5" ry="16" fill="none" stroke="#45a6ec" stroke-width="3.7"/>
<path d="M856.3,612.8 L871.8,590.1" fill="none" stroke="#45a6ec" stroke-width="3.7" stroke-linecap="round" stroke-linejoin="round"/>
<ellipse cx="864.9" cy="653.0" rx="15.5" ry="16" fill="none" stroke="#45a6ec" stroke-width="3.7"/>
<path d="M857.9,665.8 L873.4,643.1" fill="none" stroke="#45a6ec" stroke-width="3.7" stroke-linecap="round" stroke-linejoin="round"/>
<ellipse cx="861.8" cy="707.0" rx="15.5" ry="16" fill="none" stroke="#45a6ec" stroke-width="3.7"/>
<path d="M854.8,719.8 L870.3,697.1" fill="none" stroke="#45a6ec" stroke-width="3.7" stroke-linecap="round" stroke-linejoin="round"/>
<ellipse cx="863.3" cy="759.0" rx="15.5" ry="16" fill="none" stroke="#45a6ec" stroke-width="3.7"/>
<path d="M856.3,771.8 L871.8,749.1" fill="none" stroke="#45a6ec" stroke-width="3.7" stroke-linecap="round" stroke-linejoin="round"/>
<ellipse cx="868.0" cy="812.0" rx="15.5" ry="16" fill="none" stroke="#45a6ec" stroke-width="3.7"/>
<path d="M861.0,824.8 L876.5,802.1" fill="none" stroke="#45a6ec" stroke-width="3.7" stroke-linecap="round" stroke-linejoin="round"/>
<ellipse cx="868.0" cy="865.0" rx="15.5" ry="16" fill="none" stroke="#45a6ec" stroke-width="3.7"/>
<path d="M861.0,877.8 L876.5,855.1" fill="none" stroke="#45a6ec" stroke-width="3.7" stroke-linecap="round" stroke-linejoin="round"/>
<ellipse cx="868.0" cy="915.0" rx="15.5" ry="16" fill="none" stroke="#45a6ec" stroke-width="3.7"/>
<path d="M861.0,927.8 L876.5,905.1" fill="none" stroke="#45a6ec" stroke-width="3.7" stroke-linecap="round" stroke-linejoin="round"/>
<ellipse cx="864.9" cy="968.0" rx="15.5" ry="16" fill="none" stroke="#45a6ec" stroke-width="3.7"/>
<path d="M857.9,980.8 L873.4,958.1" fill="none" stroke="#45a6ec" stroke-width="3.7" stroke-linecap="round" stroke-linejoin="round"/>
<ellipse cx="863.3" cy="1019.0" rx="15.5" ry="16" fill="none" stroke="#45a6ec" stroke-width="3.7"/>
<path d="M856.3,1031.8 L871.8,1009.1" fill="none" stroke="#45a6ec" stroke-width="3.7" stroke-linecap="round" stroke-linejoin="round"/>
<ellipse cx="861.8" cy="1071.0" rx="15.5" ry="16" fill="none" stroke="#45a6ec" stroke-width="3.7"/>
<path d="M854.8,1083.8 L870.3,1061.1" fill="none" stroke="#45a6ec" stroke-width="3.7" stroke-linecap="round" stroke-linejoin="round"/>
<path d="M251.0,929.0 L273.0,907.0" fill="none" stroke="#f2363f" stroke-width="3.0" stroke-linecap="round" stroke-linejoin="round"/>
<path d="M253.2,909.2 L271.9,927.9" fill="none" stroke="#f2363f" stroke-width="3.0" stroke-linecap="round" stroke-linejoin="round"/>
<path d="M246.5,976.0 L268.5,954.0" fill="none" stroke="#f2363f" stroke-width="3.0" stroke-linecap="round" stroke-linejoin="round"/>
<path d="M248.7,956.2 L267.4,974.9" fill="none" stroke="#f2363f" stroke-width="3.0" stroke-linecap="round" stroke-linejoin="round"/>
<path d="M300.0,975.0 L318.0,957.0" fill="none" stroke="#f2363f" stroke-width="3.0" stroke-linecap="round" stroke-linejoin="round"/>
<path d="M301.8,958.8 L317.1,974.1" fill="none" stroke="#f2363f" stroke-width="3.0" stroke-linecap="round" stroke-linejoin="round"/>
<path d="M253.0,1022.0 L275.0,1000.0" fill="none" stroke="#f2363f" stroke-width="3.0" stroke-linecap="round" stroke-linejoin="round"/>
<path d="M255.2,1002.2 L273.9,1020.9" fill="none" stroke="#f2363f" stroke-width="3.0" stroke-linecap="round" stroke-linejoin="round"/>
<path d="M298.5,1023.0 L322.5,999.0" fill="none" stroke="#f2363f" stroke-width="3.0" stroke-linecap="round" stroke-linejoin="round"/>
<path d="M300.9,1001.4 L321.3,1021.8" fill="none" stroke="#f2363f" stroke-width="3.0" stroke-linecap="round" stroke-linejoin="round"/>
<path d="M359.0,1022.0 L381.0,1000.0" fill="none" stroke="#f2363f" stroke-width="3.0" stroke-linecap="round" stroke-linejoin="round"/>
<path d="M361.2,1002.2 L379.9,1020.9" fill="none" stroke="#f2363f" stroke-width="3.0" stroke-linecap="round" stroke-linejoin="round"/>
<path d="M781.6,929.5 L801.6,909.5" fill="none" stroke="#f2363f" stroke-width="3.0" stroke-linecap="round" stroke-linejoin="round"/>
<path d="M783.6,911.5 L800.6,928.5" fill="none" stroke="#f2363f" stroke-width="3.0" stroke-linecap="round" stroke-linejoin="round"/>
<path d="M724.5,980.0 L746.5,958.0" fill="none" stroke="#f2363f" stroke-width="3.0" stroke-linecap="round" stroke-linejoin="round"/>
<path d="M726.7,960.2 L745.4,978.9" fill="none" stroke="#f2363f" stroke-width="3.0" stroke-linecap="round" stroke-linejoin="round"/>
<path d="M676.5,1023.0 L696.5,1003.0" fill="none" stroke="#f2363f" stroke-width="3.0" stroke-linecap="round" stroke-linejoin="round"/>
<path d="M678.5,1005.0 L695.5,1022.0" fill="none" stroke="#f2363f" stroke-width="3.0" stroke-linecap="round" stroke-linejoin="round"/>
<path d="M724.0,1023.0 L744.0,1003.0" fill="none" stroke="#f2363f" stroke-width="3.0" stroke-linecap="round" stroke-linejoin="round"/>
<path d="M726.0,1005.0 L743.0,1022.0" fill="none" stroke="#f2363f" stroke-width="3.0" stroke-linecap="round" stroke-linejoin="round"/>
<path d="M368.0,877.0 L365.0,724.0" fill="none" stroke="#e63fcf" stroke-width="3.8" stroke-linecap="round" stroke-linejoin="round"/>
<path d="M348.0,740.0 L363.5,723.0 L374.0,737.0" fill="none" stroke="#e63fcf" stroke-width="3.8" stroke-linecap="round" stroke-linejoin="round"/>
<path d="M662.0,871.0 L654.0,724.5" fill="none" stroke="#e63fcf" stroke-width="3.8" stroke-linecap="round" stroke-linejoin="round"/>
<path d="M640.0,743.0 L654.0,723.0 L664.0,738.6" fill="none" stroke="#e63fcf" stroke-width="3.8" stroke-linecap="round" stroke-linejoin="round"/>
<path d="M455.5,855.5 L458.6,794.7 L535.0,869.6 L541.0,779.0" fill="none" stroke="#e63fcf" stroke-width="3.8" stroke-linecap="round" stroke-linejoin="round"/>
<ellipse cx="797.5" cy="968" rx="16.5" ry="13.5" fill="none" stroke="#1a1a16" stroke-width="4.6"/>
<path d="M781.0,974.0 L791.7,1028.0 L810.7,970.4" fill="none" stroke="#1a1a16" stroke-width="4.6" stroke-linecap="round" stroke-linejoin="round"/>
<path d="M203.0,1066.0 L843.0,1071.0" fill="none" stroke="#45a6ec" stroke-width="4.0" stroke-linecap="round" stroke-linejoin="round"/>
<path d="M822.0,1064.0 L843.0,1071.0 L824.0,1075.0" fill="none" stroke="#45a6ec" stroke-width="3.2" stroke-linecap="round" stroke-linejoin="round"/>
<circle cx="204" cy="1066" r="3.5" fill="#1f5f9f"/>
<path d="M2,12 L15,1 L15,40" transform="translate(1220.0,544.0) scale(0.750,0.775)" fill="none" stroke="#24201f" stroke-width="4.5" vector-effect="non-scaling-stroke" stroke-linecap="round" stroke-linejoin="round"/>
<path d="M2,9 C3,1 18,0 18,10 C18,19 6,28 2,39 L20,39" transform="translate(1252.0,538.0) scale(1.050,0.850)" fill="none" stroke="#24201f" stroke-width="4.5" vector-effect="non-scaling-stroke" stroke-linecap="round" stroke-linejoin="round"/>
<path d="M2,9 C3,1 18,0 18,10 C18,19 6,28 2,39 L20,39" transform="translate(1282.0,536.0) scale(1.250,0.850)" fill="none" stroke="#24201f" stroke-width="4.5" vector-effect="non-scaling-stroke" stroke-linecap="round" stroke-linejoin="round"/>
<path d="M2,5 C6,0 18,0 18,9 C18,16 12,19 7,19 C14,19 19,24 19,30 C19,38 10,42 2,36" transform="translate(1341.0,539.0) scale(1.350,0.900)" fill="none" stroke="#24201f" stroke-width="4.5" vector-effect="non-scaling-stroke" stroke-linecap="round" stroke-linejoin="round"/>
<path d="M4,1 L2,26 L20,25 M14,9 L14,40" transform="translate(1401.0,545.0) scale(1.550,0.675)" fill="none" stroke="#24201f" stroke-width="4.5" vector-effect="non-scaling-stroke" stroke-linecap="round" stroke-linejoin="round"/>
<path d="M18,1 L4,1 L3,17 C8,13 19,14 19,27 C19,38 8,42 2,36" transform="translate(1458.0,539.0) scale(1.650,0.900)" fill="none" stroke="#24201f" stroke-width="4.5" vector-effect="non-scaling-stroke" stroke-linecap="round" stroke-linejoin="round"/>
<path d="M15,1 C6,6 1,18 2,28 C3,38 17,41 18,29 C19,18 6,18 3,26" transform="translate(1519.0,544.0) scale(1.050,0.800)" fill="none" stroke="#24201f" stroke-width="4.5" vector-effect="non-scaling-stroke" stroke-linecap="round" stroke-linejoin="round"/>
<path d="M1,2 L19,2 L8,40" transform="translate(1581.0,541.0) scale(1.050,0.950)" fill="none" stroke="#707070" stroke-width="4.5" vector-effect="non-scaling-stroke" stroke-linecap="round" stroke-linejoin="round"/>
<path d="M10,19 C2,15 2,1 10,1 C18,1 18,15 10,19 C1,23 1,39 10,39 C19,39 19,23 10,19 Z" transform="translate(1629.0,543.0) scale(1.200,1.050)" fill="none" stroke="#505050" stroke-width="4.5" vector-effect="non-scaling-stroke" stroke-linecap="round" stroke-linejoin="round"/>
<path d="M18,12 C18,2 3,0 2,11 C1,22 17,22 18,12 L16,40" transform="translate(1691.0,541.0) scale(1.150,1.100)" fill="none" stroke="#24201f" stroke-width="4.5" vector-effect="non-scaling-stroke" stroke-linecap="round" stroke-linejoin="round"/>
<path d="M1,13 C6,9 11,10 15,15 M14,1 C16,10 15,30 15,40" transform="translate(1759.0,546.0) scale(0.999,0.950)" fill="none" stroke="#24201f" stroke-width="4.7" vector-effect="non-scaling-stroke" stroke-linecap="round" stroke-linejoin="round"/>
<path d="M10,1 C3,1 1,10 1,20 C1,31 4,39 10,39 C16,39 19,31 19,20 C19,9 16,1 10,1 Z" transform="translate(1786.0,546.0) scale(0.999,0.950)" fill="none" stroke="#24201f" stroke-width="4.7" vector-effect="non-scaling-stroke" stroke-linecap="round" stroke-linejoin="round"/>
<path d="M1,13 C6,9 11,10 15,15 M14,1 C16,10 15,30 15,40" transform="translate(1838.0,546.0) scale(0.935,0.875)" fill="none" stroke="#24201f" stroke-width="4.7" vector-effect="non-scaling-stroke" stroke-linecap="round" stroke-linejoin="round"/>
<path d="M1,13 C6,9 11,10 15,15 M14,1 C16,10 15,30 15,40" transform="translate(1863.3,546.0) scale(0.935,0.875)" fill="none" stroke="#24201f" stroke-width="4.7" vector-effect="non-scaling-stroke" stroke-linecap="round" stroke-linejoin="round"/>
<path d="M1,13 C6,9 11,10 15,15 M14,1 C16,10 15,30 15,40" transform="translate(1933.0,546.0) scale(0.956,0.900)" fill="none" stroke="#24201f" stroke-width="4.7" vector-effect="non-scaling-stroke" stroke-linecap="round" stroke-linejoin="round"/>
<path d="M2,9 C3,1 18,0 18,10 C18,19 6,28 2,39 L20,39" transform="translate(1958.9,546.0) scale(0.956,0.900)" fill="none" stroke="#24201f" stroke-width="4.7" vector-effect="non-scaling-stroke" stroke-linecap="round" stroke-linejoin="round"/>
<path d="M10,1 C3,1 1,10 1,20 C1,31 4,39 10,39 C16,39 19,31 19,20 C19,9 16,1 10,1 Z" transform="translate(1177.7,584.0) scale(1.635,0.825)" fill="none" stroke="#24201f" stroke-width="4.5" vector-effect="non-scaling-stroke" stroke-linecap="round" stroke-linejoin="round"/>
<path d="M2,9 C3,1 18,0 18,10 C18,19 6,28 2,39 L20,39" transform="translate(1176.0,684.0) scale(1.000,0.925)" fill="none" stroke="#24201f" stroke-width="4.5" vector-effect="non-scaling-stroke" stroke-linecap="round" stroke-linejoin="round"/>
<path d="M4,1 L2,26 L20,25 M14,9 L14,40" transform="translate(1160.5,790.0) scale(1.560,0.900)" fill="none" stroke="#24201f" stroke-width="4.5" vector-effect="non-scaling-stroke" stroke-linecap="round" stroke-linejoin="round"/>
<path d="M15,1 C6,6 1,18 2,28 C3,38 17,41 18,29 C19,18 6,18 3,26" transform="translate(1157.0,899.0) scale(1.425,0.775)" fill="none" stroke="#24201f" stroke-width="4.5" vector-effect="non-scaling-stroke" stroke-linecap="round" stroke-linejoin="round"/>
<path d="M10,19 C2,15 2,1 10,1 C18,1 18,15 10,19 C1,23 1,39 10,39 C19,39 19,23 10,19 Z" transform="translate(1152.7,999.0) scale(1.250,0.925)" fill="none" stroke="#24201f" stroke-width="4.5" vector-effect="non-scaling-stroke" stroke-linecap="round" stroke-linejoin="round"/>
<path d="M2,12 L15,1 L15,40" transform="translate(1990.8,651.4) scale(0.660,0.740)" fill="none" stroke="#24201f" stroke-width="4.5" vector-effect="non-scaling-stroke" stroke-linecap="round" stroke-linejoin="round"/>
<path d="M2,5 C6,0 18,0 18,9 C18,16 12,19 7,19 C14,19 19,24 19,30 C19,38 10,42 2,36" transform="translate(1990.8,760.0) scale(1.150,0.743)" fill="none" stroke="#24201f" stroke-width="4.5" vector-effect="non-scaling-stroke" stroke-linecap="round" stroke-linejoin="round"/>
<path d="M18,1 L4,1 L3,17 C8,13 19,14 19,27 C19,38 8,42 2,36" transform="translate(1986.0,855.6) scale(1.225,0.860)" fill="none" stroke="#24201f" stroke-width="4.5" vector-effect="non-scaling-stroke" stroke-linecap="round" stroke-linejoin="round"/>
<path d="M1,2 L19,2 L8,40" transform="translate(1994.0,970.8) scale(0.650,0.655)" fill="none" stroke="#24201f" stroke-width="4.5" vector-effect="non-scaling-stroke" stroke-linecap="round" stroke-linejoin="round"/>
<path d="M18,12 C18,2 3,0 2,11 C1,22 17,22 18,12 L16,40" transform="translate(1986.0,1066.0) scale(1.050,1.075)" fill="none" stroke="#24201f" stroke-width="4.5" vector-effect="non-scaling-stroke" stroke-linecap="round" stroke-linejoin="round"/>
<ellipse cx="1244.7" cy="592.0" rx="15.5" ry="16" fill="none" stroke="#45a6ec" stroke-width="3.7"/>
<path d="M1237.7,604.8 L1253.2,582.1" fill="none" stroke="#45a6ec" stroke-width="3.7" stroke-linecap="round" stroke-linejoin="round"/>
<ellipse cx="1243.0" cy="648.0" rx="15.5" ry="16" fill="none" stroke="#45a6ec" stroke-width="3.7"/>
<path d="M1236.0,660.8 L1251.5,638.1" fill="none" stroke="#45a6ec" stroke-width="3.7" stroke-linecap="round" stroke-linejoin="round"/>
<ellipse cx="1240.0" cy="706.0" rx="15.5" ry="16" fill="none" stroke="#45a6ec" stroke-width="3.7"/>
<path d="M1233.0,718.8 L1248.5,696.1" fill="none" stroke="#45a6ec" stroke-width="3.7" stroke-linecap="round" stroke-linejoin="round"/>
<ellipse cx="1235.4" cy="755.7" rx="15.5" ry="16" fill="none" stroke="#45a6ec" stroke-width="3.7"/>
<path d="M1228.4,768.5 L1243.9,745.8" fill="none" stroke="#45a6ec" stroke-width="3.7" stroke-linecap="round" stroke-linejoin="round"/>
<ellipse cx="1237.0" cy="805.6" rx="15.5" ry="16" fill="none" stroke="#45a6ec" stroke-width="3.7"/>
<path d="M1230.0,818.4 L1245.5,795.7" fill="none" stroke="#45a6ec" stroke-width="3.7" stroke-linecap="round" stroke-linejoin="round"/>
<ellipse cx="1233.8" cy="858.6" rx="15.5" ry="16" fill="none" stroke="#45a6ec" stroke-width="3.7"/>
<path d="M1226.8,871.4 L1242.3,848.7" fill="none" stroke="#45a6ec" stroke-width="3.7" stroke-linecap="round" stroke-linejoin="round"/>
<ellipse cx="1232.0" cy="918.0" rx="15.5" ry="16" fill="none" stroke="#45a6ec" stroke-width="3.7"/>
<path d="M1225.0,930.8 L1240.5,908.1" fill="none" stroke="#45a6ec" stroke-width="3.7" stroke-linecap="round" stroke-linejoin="round"/>
<ellipse cx="1229.0" cy="971.0" rx="15.5" ry="16" fill="none" stroke="#45a6ec" stroke-width="3.7"/>
<path d="M1222.0,983.8 L1237.5,961.1" fill="none" stroke="#45a6ec" stroke-width="3.7" stroke-linecap="round" stroke-linejoin="round"/>
<ellipse cx="1227.6" cy="1019.0" rx="15.5" ry="16" fill="none" stroke="#45a6ec" stroke-width="3.7"/>
<path d="M1220.6,1031.8 L1236.1,1009.1" fill="none" stroke="#45a6ec" stroke-width="3.7" stroke-linecap="round" stroke-linejoin="round"/>
<ellipse cx="1227.6" cy="1070.7" rx="15.5" ry="16" fill="none" stroke="#45a6ec" stroke-width="3.7"/>
<path d="M1220.6,1083.5 L1236.1,1060.8" fill="none" stroke="#45a6ec" stroke-width="3.7" stroke-linecap="round" stroke-linejoin="round"/>
<ellipse cx="1923.0" cy="610.0" rx="18" ry="16.5" fill="none" stroke="#45a6ec" stroke-width="3.7"/>
<path d="M1914.9,623.2 L1932.9,599.8" fill="none" stroke="#45a6ec" stroke-width="3.7" stroke-linecap="round" stroke-linejoin="round"/>
<ellipse cx="1925.0" cy="668.0" rx="18" ry="16.5" fill="none" stroke="#45a6ec" stroke-width="3.7"/>
<path d="M1916.9,681.2 L1934.9,657.8" fill="none" stroke="#45a6ec" stroke-width="3.7" stroke-linecap="round" stroke-linejoin="round"/>
<ellipse cx="1921.6" cy="719.0" rx="18" ry="16.5" fill="none" stroke="#45a6ec" stroke-width="3.7"/>
<path d="M1913.5,732.2 L1931.5,708.8" fill="none" stroke="#45a6ec" stroke-width="3.7" stroke-linecap="round" stroke-linejoin="round"/>
<ellipse cx="1916.7" cy="771.6" rx="18" ry="16.5" fill="none" stroke="#45a6ec" stroke-width="3.7"/>
<path d="M1908.6,784.8 L1926.6,761.4" fill="none" stroke="#45a6ec" stroke-width="3.7" stroke-linecap="round" stroke-linejoin="round"/>
<ellipse cx="1921.6" cy="819.0" rx="18" ry="16.5" fill="none" stroke="#45a6ec" stroke-width="3.7"/>
<path d="M1913.5,832.2 L1931.5,808.8" fill="none" stroke="#45a6ec" stroke-width="3.7" stroke-linecap="round" stroke-linejoin="round"/>
<ellipse cx="1916.7" cy="872.0" rx="18" ry="16.5" fill="none" stroke="#45a6ec" stroke-width="3.7"/>
<path d="M1908.6,885.2 L1926.6,861.8" fill="none" stroke="#45a6ec" stroke-width="3.7" stroke-linecap="round" stroke-linejoin="round"/>
<ellipse cx="1913.0" cy="915.0" rx="18" ry="16.5" fill="none" stroke="#45a6ec" stroke-width="3.7"/>
<path d="M1904.9,928.2 L1922.9,904.8" fill="none" stroke="#45a6ec" stroke-width="3.7" stroke-linecap="round" stroke-linejoin="round"/>
<ellipse cx="1911.8" cy="975.7" rx="18" ry="16.5" fill="none" stroke="#45a6ec" stroke-width="3.7"/>
<path d="M1903.7,988.9 L1921.7,965.5" fill="none" stroke="#45a6ec" stroke-width="3.7" stroke-linecap="round" stroke-linejoin="round"/>
<ellipse cx="1908.5" cy="1020.0" rx="18" ry="16.5" fill="none" stroke="#45a6ec" stroke-width="3.7"/>
<path d="M1900.4,1033.2 L1918.4,1009.8" fill="none" stroke="#45a6ec" stroke-width="3.7" stroke-linecap="round" stroke-linejoin="round"/>
<ellipse cx="1908.5" cy="1071.0" rx="18" ry="16.5" fill="none" stroke="#45a6ec" stroke-width="3.7"/>
<path d="M1900.4,1084.2 L1918.4,1060.8" fill="none" stroke="#45a6ec" stroke-width="3.7" stroke-linecap="round" stroke-linejoin="round"/>
<path d="M1286.0,929.5 L1306.0,909.5" fill="none" stroke="#f2363f" stroke-width="3.0" stroke-linecap="round" stroke-linejoin="round"/>
<path d="M1288.0,911.5 L1305.0,928.5" fill="none" stroke="#f2363f" stroke-width="3.0" stroke-linecap="round" stroke-linejoin="round"/>
<path d="M1284.0,984.6 L1302.0,966.6" fill="none" stroke="#f2363f" stroke-width="3.0" stroke-linecap="round" stroke-linejoin="round"/>
<path d="M1285.8,968.4 L1301.1,983.7" fill="none" stroke="#f2363f" stroke-width="3.0" stroke-linecap="round" stroke-linejoin="round"/>
<path d="M1329.3,986.0 L1347.3,968.0" fill="none" stroke="#f2363f" stroke-width="3.0" stroke-linecap="round" stroke-linejoin="round"/>
<path d="M1331.1,969.8 L1346.4,985.1" fill="none" stroke="#f2363f" stroke-width="3.0" stroke-linecap="round" stroke-linejoin="round"/>
<path d="M1287.0,1023.6 L1305.0,1005.6" fill="none" stroke="#f2363f" stroke-width="3.0" stroke-linecap="round" stroke-linejoin="round"/>
<path d="M1288.8,1007.4 L1304.1,1022.7" fill="none" stroke="#f2363f" stroke-width="3.0" stroke-linecap="round" stroke-linejoin="round"/>
<path d="M1335.5,1022.0 L1353.5,1004.0" fill="none" stroke="#f2363f" stroke-width="3.0" stroke-linecap="round" stroke-linejoin="round"/>
<path d="M1337.3,1005.8 L1352.6,1021.1" fill="none" stroke="#f2363f" stroke-width="3.0" stroke-linecap="round" stroke-linejoin="round"/>
<path d="M1385.4,1020.5 L1403.4,1002.5" fill="none" stroke="#f2363f" stroke-width="3.0" stroke-linecap="round" stroke-linejoin="round"/>
<path d="M1387.2,1004.3 L1402.5,1019.6" fill="none" stroke="#f2363f" stroke-width="3.0" stroke-linecap="round" stroke-linejoin="round"/>
<path d="M1832.0,926.7 L1846.0,912.7" fill="none" stroke="#f2363f" stroke-width="3.0" stroke-linecap="round" stroke-linejoin="round"/>
<path d="M1833.4,914.1 L1845.3,926.0" fill="none" stroke="#f2363f" stroke-width="3.0" stroke-linecap="round" stroke-linejoin="round"/>
<path d="M1712.0,1027.0 L1726.0,1013.0" fill="none" stroke="#f2363f" stroke-width="3.0" stroke-linecap="round" stroke-linejoin="round"/>
<path d="M1713.4,1014.4 L1725.3,1026.3" fill="none" stroke="#f2363f" stroke-width="3.0" stroke-linecap="round" stroke-linejoin="round"/>
<ellipse cx="1769" cy="928" rx="8.5" ry="8" fill="#f2363f" stroke="#f2363f" stroke-width="3"/>
<path d="M1764.0,929.0 L1780.0,913.0" fill="none" stroke="#f2363f" stroke-width="3.2" stroke-linecap="round" stroke-linejoin="round"/>
<path d="M1765.6,914.6 L1779.2,928.2" fill="none" stroke="#f2363f" stroke-width="3.2" stroke-linecap="round" stroke-linejoin="round"/>
<path d="M1463.0,888.0 L1478.6,727.7" fill="none" stroke="#e63fcf" stroke-width="3.8" stroke-linecap="round" stroke-linejoin="round"/>
<path d="M1458.4,744.8 L1478.6,727.7 L1486.4,749.5" fill="none" stroke="#e63fcf" stroke-width="3.8" stroke-linecap="round" stroke-linejoin="round"/>
<path d="M1700.4,900.0 L1699.4,707.4" fill="none" stroke="#e63fcf" stroke-width="3.8" stroke-linecap="round" stroke-linejoin="round"/>
<path d="M1678.0,735.4 L1699.4,707.4 L1716.0,727.0" fill="none" stroke="#e63fcf" stroke-width="3.8" stroke-linecap="round" stroke-linejoin="round"/>
<path d="M1523.3,872.0 L1525.0,809.5 L1597.4,882.0 L1604.0,812.8" fill="none" stroke="#e63fcf" stroke-width="3.8" stroke-linecap="round" stroke-linejoin="round"/>
<ellipse cx="1772" cy="966.5" rx="18.5" ry="15.5" fill="none" stroke="#1a1a16" stroke-width="4.4"/>
<path d="M1757.0,978.0 L1769.3,1018.8 L1788.0,975.0" fill="none" stroke="#1a1a16" stroke-width="4.4" stroke-linecap="round" stroke-linejoin="round"/>
<ellipse cx="1845.2" cy="969.5" rx="20.5" ry="15.5" fill="none" stroke="#1a1a16" stroke-width="4.4"/>
<path d="M1827.5,973.0 L1846.8,1018.8 L1864.0,976.7" fill="none" stroke="#1a1a16" stroke-width="4.4" stroke-linecap="round" stroke-linejoin="round"/>
<path d="M1244.7,1070.7 L1870.6,1079.4" fill="none" stroke="#45a6ec" stroke-width="4.0" stroke-linecap="round" stroke-linejoin="round"/>
<path d="M2,12 L15,1 L15,40" transform="translate(605.6,1364.0) scale(0.820,0.975)" fill="none" stroke="#24201f" stroke-width="4.5" vector-effect="non-scaling-stroke" stroke-linecap="round" stroke-linejoin="round"/>
<path d="M2,9 C3,1 18,0 18,10 C18,19 6,28 2,39 L20,39" transform="translate(676.0,1371.0) scale(1.000,0.887)" fill="none" stroke="#24201f" stroke-width="4.5" vector-effect="non-scaling-stroke" stroke-linecap="round" stroke-linejoin="round"/>
<path d="M2,5 C6,0 18,0 18,9 C18,16 12,19 7,19 C14,19 19,24 19,30 C19,38 10,42 2,36" transform="translate(747.7,1369.0) scale(0.945,0.900)" fill="none" stroke="#24201f" stroke-width="4.5" vector-effect="non-scaling-stroke" stroke-linecap="round" stroke-linejoin="round"/>
<path d="M4,1 L2,26 L20,25 M14,9 L14,40" transform="translate(809.0,1367.5) scale(1.275,0.912)" fill="none" stroke="#24201f" stroke-width="4.5" vector-effect="non-scaling-stroke" stroke-linecap="round" stroke-linejoin="round"/>
<path d="M18,1 L4,1 L3,17 C8,13 19,14 19,27 C19,38 8,42 2,36" transform="translate(864.7,1367.5) scale(1.385,0.975)" fill="none" stroke="#24201f" stroke-width="4.5" vector-effect="non-scaling-stroke" stroke-linecap="round" stroke-linejoin="round"/>
<path d="M15,1 C6,6 1,18 2,28 C3,38 17,41 18,29 C19,18 6,18 3,26" transform="translate(923.8,1370.0) scale(1.195,0.950)" fill="none" stroke="#24201f" stroke-width="4.5" vector-effect="non-scaling-stroke" stroke-linecap="round" stroke-linejoin="round"/>
<path d="M1,2 L19,2 L8,40" transform="translate(1000.7,1368.0) scale(1.140,1.000)" fill="none" stroke="#24201f" stroke-width="4.5" vector-effect="non-scaling-stroke" stroke-linecap="round" stroke-linejoin="round"/>
<path d="M10,19 C2,15 2,1 10,1 C18,1 18,15 10,19 C1,23 1,39 10,39 C19,39 19,23 10,19 Z" transform="translate(1049.0,1368.0) scale(1.075,1.000)" fill="none" stroke="#24201f" stroke-width="4.5" vector-effect="non-scaling-stroke" stroke-linecap="round" stroke-linejoin="round"/>
<path d="M18,12 C18,2 3,0 2,11 C1,22 17,22 18,12 L16,40" transform="translate(1117.5,1373.0) scale(1.005,0.950)" fill="none" stroke="#24201f" stroke-width="4.5" vector-effect="non-scaling-stroke" stroke-linecap="round" stroke-linejoin="round"/>
<path d="M2,12 L15,1 L15,40" transform="translate(1176.6,1376.0) scale(0.684,0.850)" fill="none" stroke="#24201f" stroke-width="4.5" vector-effect="non-scaling-stroke" stroke-linecap="round" stroke-linejoin="round"/>
<path d="M10,1 C3,1 1,10 1,20 C1,31 4,39 10,39 C16,39 19,31 19,20 C19,9 16,1 10,1 Z" transform="translate(1195.1,1376.0) scale(0.684,0.850)" fill="none" stroke="#24201f" stroke-width="4.5" vector-effect="non-scaling-stroke" stroke-linecap="round" stroke-linejoin="round"/>
<path d="M2,12 L15,1 L15,40" transform="translate(1231.6,1372.0) scale(0.572,1.050)" fill="none" stroke="#24201f" stroke-width="4.5" vector-effect="non-scaling-stroke" stroke-linecap="round" stroke-linejoin="round"/>
<path d="M2,12 L15,1 L15,40" transform="translate(1247.1,1372.0) scale(0.572,1.050)" fill="none" stroke="#24201f" stroke-width="4.5" vector-effect="non-scaling-stroke" stroke-linecap="round" stroke-linejoin="round"/>
<path d="M2,12 L15,1 L15,40" transform="translate(1294.7,1372.0) scale(0.829,0.950)" fill="none" stroke="#24201f" stroke-width="4.5" vector-effect="non-scaling-stroke" stroke-linecap="round" stroke-linejoin="round"/>
<path d="M2,9 C3,1 18,0 18,10 C18,19 6,28 2,39 L20,39" transform="translate(1317.1,1372.0) scale(0.829,0.950)" fill="none" stroke="#24201f" stroke-width="4.5" vector-effect="non-scaling-stroke" stroke-linecap="round" stroke-linejoin="round"/>
<path d="M10,1 C3,1 1,10 1,20 C1,31 4,39 10,39 C16,39 19,31 19,20 C19,9 16,1 10,1 Z" transform="translate(531.4,1417.8) scale(1.575,0.787)" fill="none" stroke="#24201f" stroke-width="4.5" vector-effect="non-scaling-stroke" stroke-linecap="round" stroke-linejoin="round"/>
<path d="M2,9 C3,1 18,0 18,10 C18,19 6,28 2,39 L20,39" transform="translate(536.5,1516.0) scale(1.195,0.875)" fill="none" stroke="#24201f" stroke-width="4.5" vector-effect="non-scaling-stroke" stroke-linecap="round" stroke-linejoin="round"/>
<path d="M4,1 L2,26 L20,25 M14,9 L14,40" transform="translate(532.7,1620.0) scale(1.385,0.887)" fill="none" stroke="#24201f" stroke-width="4.5" vector-effect="non-scaling-stroke" stroke-linecap="round" stroke-linejoin="round"/>
<path d="M15,1 C6,6 1,18 2,28 C3,38 17,41 18,29 C19,18 6,18 3,26" transform="translate(539.0,1719.7) scale(1.380,0.907)" fill="none" stroke="#24201f" stroke-width="4.5" vector-effect="non-scaling-stroke" stroke-linecap="round" stroke-linejoin="round"/>
<path d="M10,19 C2,15 2,1 10,1 C18,1 18,15 10,19 C1,23 1,39 10,39 C19,39 19,23 10,19 Z" transform="translate(539.5,1830.0) scale(1.300,0.775)" fill="none" stroke="#24201f" stroke-width="4.5" vector-effect="non-scaling-stroke" stroke-linecap="round" stroke-linejoin="round"/>
<path d="M1,13 C6,9 11,10 15,15 M14,1 C16,10 15,30 15,40" transform="translate(528.4,1930.0) scale(0.969,0.925)" fill="none" stroke="#24201f" stroke-width="4.7" vector-effect="non-scaling-stroke" stroke-linecap="round" stroke-linejoin="round"/>
<path d="M10,1 C3,1 1,10 1,20 C1,31 4,39 10,39 C16,39 19,31 19,20 C19,9 16,1 10,1 Z" transform="translate(554.6,1930.0) scale(0.969,0.925)" fill="none" stroke="#24201f" stroke-width="4.7" vector-effect="non-scaling-stroke" stroke-linecap="round" stroke-linejoin="round"/>
<path d="M1,13 C6,9 11,10 15,15 M14,1 C16,10 15,30 15,40" transform="translate(513.6,2040.0) scale(1.050,1.015)" fill="none" stroke="#24201f" stroke-width="4.7" vector-effect="non-scaling-stroke" stroke-linecap="round" stroke-linejoin="round"/>
<path d="M2,9 C3,1 18,0 18,10 C18,19 6,28 2,39 L20,39" transform="translate(542.0,2040.0) scale(1.050,1.015)" fill="none" stroke="#24201f" stroke-width="4.7" vector-effect="non-scaling-stroke" stroke-linecap="round" stroke-linejoin="round"/>
<path d="M1,13 C6,9 11,10 15,15 M14,1 C16,10 15,30 15,40" transform="translate(1351.0,1475.5) scale(0.950,0.938)" fill="none" stroke="#24201f" stroke-width="4.7" vector-effect="non-scaling-stroke" stroke-linecap="round" stroke-linejoin="round"/>
<path d="M2,5 C6,0 18,0 18,9 C18,16 12,19 7,19 C14,19 19,24 19,30 C19,38 10,42 2,36" transform="translate(1356.5,1585.6) scale(1.075,0.773)" fill="none" stroke="#24201f" stroke-width="4.5" vector-effect="non-scaling-stroke" stroke-linecap="round" stroke-linejoin="round"/>
<path d="M18,1 L4,1 L3,17 C8,13 19,14 19,27 C19,38 8,42 2,36" transform="translate(1356.5,1690.0) scale(1.345,0.775)" fill="none" stroke="#24201f" stroke-width="4.5" vector-effect="non-scaling-stroke" stroke-linecap="round" stroke-linejoin="round"/>
<path d="M1,2 L19,2 L8,40" transform="translate(1359.0,1789.6) scale(1.085,0.835)" fill="none" stroke="#24201f" stroke-width="4.5" vector-effect="non-scaling-stroke" stroke-linecap="round" stroke-linejoin="round"/>
<path d="M18,12 C18,2 3,0 2,11 C1,22 17,22 18,12 L16,40" transform="translate(1353.0,1898.0) scale(1.090,0.775)" fill="none" stroke="#24201f" stroke-width="4.5" vector-effect="non-scaling-stroke" stroke-linecap="round" stroke-linejoin="round"/>
<path d="M1,13 C6,9 11,10 15,15 M14,1 C16,10 15,30 15,40" transform="translate(1347.0,1997.0) scale(0.929,0.900)" fill="none" stroke="#24201f" stroke-width="4.7" vector-effect="non-scaling-stroke" stroke-linecap="round" stroke-linejoin="round"/>
<path d="M1,13 C6,9 11,10 15,15 M14,1 C16,10 15,30 15,40" transform="translate(1372.1,1997.0) scale(0.929,0.900)" fill="none" stroke="#24201f" stroke-width="4.7" vector-effect="non-scaling-stroke" stroke-linecap="round" stroke-linejoin="round"/>
<path d="M1,13 C6,9 11,10 15,15 M14,1 C16,10 15,30 15,40" transform="translate(1353.0,2098.4) scale(0.829,0.907)" fill="none" stroke="#24201f" stroke-width="4.7" vector-effect="non-scaling-stroke" stroke-linecap="round" stroke-linejoin="round"/>
<path d="M2,5 C6,0 18,0 18,9 C18,16 12,19 7,19 C14,19 19,24 19,30 C19,38 10,42 2,36" transform="translate(1375.4,2098.4) scale(0.829,0.907)" fill="none" stroke="#24201f" stroke-width="4.7" vector-effect="non-scaling-stroke" stroke-linecap="round" stroke-linejoin="round"/>
<path d="M668.3,1499.8 L696.3,1471.8" fill="none" stroke="#f2363f" stroke-width="3.2" stroke-linecap="round" stroke-linejoin="round"/>
<path d="M671.1,1474.6 L694.9,1498.4" fill="none" stroke="#f2363f" stroke-width="3.2" stroke-linecap="round" stroke-linejoin="round"/>
<path d="M732.5,1502.3 L760.5,1474.3" fill="none" stroke="#f2363f" stroke-width="3.2" stroke-linecap="round" stroke-linejoin="round"/>
<path d="M735.3,1477.1 L759.1,1500.9" fill="none" stroke="#f2363f" stroke-width="3.2" stroke-linecap="round" stroke-linejoin="round"/>
<path d="M807.7,1503.8 L833.7,1477.8" fill="none" stroke="#f2363f" stroke-width="3.2" stroke-linecap="round" stroke-linejoin="round"/>
<path d="M810.3,1480.4 L832.4,1502.5" fill="none" stroke="#f2363f" stroke-width="3.2" stroke-linecap="round" stroke-linejoin="round"/>
<path d="M676.0,1554.0 L704.0,1526.0" fill="none" stroke="#f2363f" stroke-width="3.2" stroke-linecap="round" stroke-linejoin="round"/>
<path d="M678.8,1528.8 L702.6,1552.6" fill="none" stroke="#f2363f" stroke-width="3.2" stroke-linecap="round" stroke-linejoin="round"/>
<path d="M739.5,1548.0 L763.5,1524.0" fill="none" stroke="#f2363f" stroke-width="3.2" stroke-linecap="round" stroke-linejoin="round"/>
<path d="M741.9,1526.4 L762.3,1546.8" fill="none" stroke="#f2363f" stroke-width="3.2" stroke-linecap="round" stroke-linejoin="round"/>
<path d="M669.3,1610.7 L695.3,1584.7" fill="none" stroke="#f2363f" stroke-width="3.2" stroke-linecap="round" stroke-linejoin="round"/>
<path d="M671.9,1587.3 L694.0,1609.4" fill="none" stroke="#f2363f" stroke-width="3.2" stroke-linecap="round" stroke-linejoin="round"/>
<path d="M1111.0,1498.0 L1137.0,1472.0" fill="none" stroke="#f2363f" stroke-width="3.2" stroke-linecap="round" stroke-linejoin="round"/>
<path d="M1113.6,1474.6 L1135.7,1496.7" fill="none" stroke="#f2363f" stroke-width="3.2" stroke-linecap="round" stroke-linejoin="round"/>
<path d="M1169.3,1494.8 L1197.3,1466.8" fill="none" stroke="#f2363f" stroke-width="3.2" stroke-linecap="round" stroke-linejoin="round"/>
<path d="M1172.1,1469.6 L1195.9,1493.4" fill="none" stroke="#f2363f" stroke-width="3.2" stroke-linecap="round" stroke-linejoin="round"/>
<path d="M1168.0,1545.9 L1196.0,1517.9" fill="none" stroke="#f2363f" stroke-width="3.2" stroke-linecap="round" stroke-linejoin="round"/>
<path d="M1170.8,1520.7 L1194.6,1544.5" fill="none" stroke="#f2363f" stroke-width="3.2" stroke-linecap="round" stroke-linejoin="round"/>
<path d="M723.0,2022.0 L749.0,1996.0" fill="none" stroke="#f2363f" stroke-width="3.2" stroke-linecap="round" stroke-linejoin="round"/>
<path d="M725.6,1998.6 L747.7,2020.7" fill="none" stroke="#f2363f" stroke-width="3.2" stroke-linecap="round" stroke-linejoin="round"/>
<path d="M722.7,2074.0 L746.7,2050.0" fill="none" stroke="#f2363f" stroke-width="3.2" stroke-linecap="round" stroke-linejoin="round"/>
<path d="M725.1,2052.4 L745.5,2072.8" fill="none" stroke="#f2363f" stroke-width="3.2" stroke-linecap="round" stroke-linejoin="round"/>
<path d="M783.7,2067.4 L811.7,2039.4" fill="none" stroke="#f2363f" stroke-width="3.2" stroke-linecap="round" stroke-linejoin="round"/>
<path d="M786.5,2042.2 L810.3,2066.0" fill="none" stroke="#f2363f" stroke-width="3.2" stroke-linecap="round" stroke-linejoin="round"/>
<path d="M1218.2,1967.9 L1244.2,1941.9" fill="none" stroke="#f2363f" stroke-width="3.2" stroke-linecap="round" stroke-linejoin="round"/>
<path d="M1220.8,1944.5 L1242.9,1966.6" fill="none" stroke="#f2363f" stroke-width="3.2" stroke-linecap="round" stroke-linejoin="round"/>
<path d="M1163.0,2024.5 L1195.0,1992.5" fill="none" stroke="#f2363f" stroke-width="3.2" stroke-linecap="round" stroke-linejoin="round"/>
<path d="M1166.2,1995.7 L1193.4,2022.9" fill="none" stroke="#f2363f" stroke-width="3.2" stroke-linecap="round" stroke-linejoin="round"/>
<path d="M1210.0,2025.4 L1238.0,1997.4" fill="none" stroke="#f2363f" stroke-width="3.2" stroke-linecap="round" stroke-linejoin="round"/>
<path d="M1212.8,2000.2 L1236.6,2024.0" fill="none" stroke="#f2363f" stroke-width="3.2" stroke-linecap="round" stroke-linejoin="round"/>
<path d="M1100.2,2075.7 L1130.2,2045.7" fill="none" stroke="#f2363f" stroke-width="3.2" stroke-linecap="round" stroke-linejoin="round"/>
<path d="M1103.2,2048.7 L1128.7,2074.2" fill="none" stroke="#f2363f" stroke-width="3.2" stroke-linecap="round" stroke-linejoin="round"/>
<path d="M1156.8,2078.6 L1186.8,2048.6" fill="none" stroke="#f2363f" stroke-width="3.2" stroke-linecap="round" stroke-linejoin="round"/>
<path d="M1159.8,2051.6 L1185.3,2077.1" fill="none" stroke="#f2363f" stroke-width="3.2" stroke-linecap="round" stroke-linejoin="round"/>
<path d="M1212.9,2076.0 L1240.9,2048.0" fill="none" stroke="#f2363f" stroke-width="3.2" stroke-linecap="round" stroke-linejoin="round"/>
<path d="M1215.7,2050.8 L1239.5,2074.6" fill="none" stroke="#f2363f" stroke-width="3.2" stroke-linecap="round" stroke-linejoin="round"/>
<path d="M1243.7,1466.0 L1243.7,1494.3" fill="none" stroke="#3a36c4" stroke-width="3.4" stroke-linecap="round" stroke-linejoin="round"/>
<path d="M1223.6,1490.2 L1243.7,1466.0 L1270.6,1490.0" fill="none" stroke="#3a36c4" stroke-width="3.4" stroke-linecap="round" stroke-linejoin="round"/>
<path d="M1234.0,1521.0 L1234.0,1549.0" fill="none" stroke="#3a36c4" stroke-width="3.2" stroke-linecap="round" stroke-linejoin="round"/>
<path d="M1249.0,1521.0 L1249.0,1549.0" fill="none" stroke="#3a36c4" stroke-width="3.2" stroke-linecap="round" stroke-linejoin="round"/>
<path d="M1264.0,1521.0 L1264.0,1549.0" fill="none" stroke="#3a36c4" stroke-width="3.2" stroke-linecap="round" stroke-linejoin="round"/>
<path d="M2,5 C6,0 18,0 18,9 C18,16 12,19 7,19 C14,19 19,24 19,30 C19,38 10,42 2,36" transform="translate(1234.0,1572.0) scale(1.025,0.600)" fill="none" stroke="#3a36c4" stroke-width="3.0" vector-effect="non-scaling-stroke" stroke-linecap="round" stroke-linejoin="round"/>
<path d="M1219.5,1592.3 L1246.4,1611.0 L1265.0,1591.0" fill="none" stroke="#3a36c4" stroke-width="3.4" stroke-linecap="round" stroke-linejoin="round"/>
<path d="M681.6,1944.8 L681.6,1974.4" fill="none" stroke="#3a36c4" stroke-width="3.4" stroke-linecap="round" stroke-linejoin="round"/>
<path d="M655.6,1973.0 L681.6,1944.8 L715.0,1968.0" fill="none" stroke="#3a36c4" stroke-width="3.4" stroke-linecap="round" stroke-linejoin="round"/>
<path d="M660.6,1995.4 L660.6,2021.3" fill="none" stroke="#3a36c4" stroke-width="3.2" stroke-linecap="round" stroke-linejoin="round"/>
<path d="M677.9,1995.4 L677.9,2021.3" fill="none" stroke="#3a36c4" stroke-width="3.2" stroke-linecap="round" stroke-linejoin="round"/>
<path d="M696.4,1995.4 L696.4,2021.3" fill="none" stroke="#3a36c4" stroke-width="3.2" stroke-linecap="round" stroke-linejoin="round"/>
<path d="M2,5 C6,0 18,0 18,9 C18,16 12,19 7,19 C14,19 19,24 19,30 C19,38 10,42 2,36" transform="translate(668.0,2037.4) scale(1.100,0.680)" fill="none" stroke="#3a36c4" stroke-width="3.0" vector-effect="non-scaling-stroke" stroke-linecap="round" stroke-linejoin="round"/>
<path d="M655.6,2067 C665,2074 675,2080 682.8,2079.4 C692,2076 700,2070 702.6,2063.3" fill="none" stroke="#3a36c4" stroke-width="3.4" stroke-linecap="round" stroke-linejoin="round" />
<path d="M876.5,1860.8 L869.0,1731.4 L884.0,1723.3 L876.5,1860.8" fill="none" stroke="#e63fcf" stroke-width="3.8" stroke-linecap="round" stroke-linejoin="round"/>
<path d="M869.0,1731.4 L904.4,1763.0 L931.3,1786.7 L964.6,1821.0 L991.4,1853.3 L993.6,1701.8" fill="none" stroke="#e63fcf" stroke-width="3.8" stroke-linecap="round" stroke-linejoin="round"/>
<path d="M886.0,1733.0 L1003.3,1866.0 L1005.4,1703.0" fill="none" stroke="#e63fcf" stroke-width="3.8" stroke-linecap="round" stroke-linejoin="round"/>
</svg>
</body></html>
